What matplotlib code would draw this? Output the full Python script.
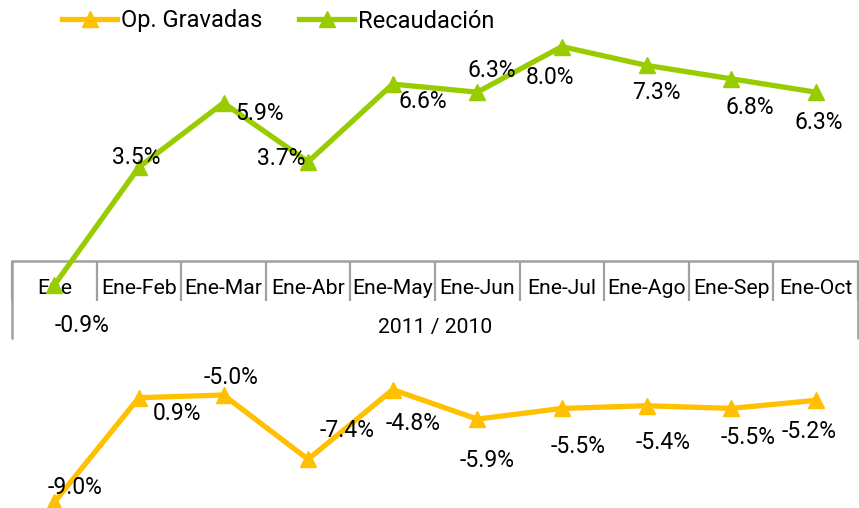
import numpy as np
import matplotlib
matplotlib.use("Agg")
import matplotlib.pyplot as plt
from matplotlib.transforms import blended_transform_factory

plt.rcParams['font.family'] = ['Roboto', 'DejaVu Sans']

categories = ["Ene", "Ene-Feb", "Ene-Mar", "Ene-Abr", "Ene-May", "Ene-Jun",
              "Ene-Jul", "Ene-Ago", "Ene-Sep", "Ene-Oct"]
op_gravadas = [-9.0, -5.1, -5.0, -7.4, -4.8, -5.9, -5.5, -5.4, -5.5, -5.2]
op_gravadas_labels = ["-9.0%", "0.9%", "-5.0%", "-7.4%", "-4.8%", "-5.9%",
                      "-5.5%", "-5.4%", "-5.5%", "-5.2%"]
recaudacion = [-0.9, 3.5, 5.9, 3.7, 6.6, 6.3, 8.0, 7.3, 6.8, 6.3]
recaudacion_labels = ["-0.9%", "3.5%", "5.9%", "3.7%", "6.6%", "6.3%",
                      "8.0%", "7.3%", "6.8%", "6.3%"]
axis_title = "2011 / 2010"

ORANGE = "#FFC000"
GREEN = "#99CC00"
GRAY = "#A0A0A0"

# label offsets in pixels (dx right, dy down)
op_offsets = [(21, -15), (38, 16), (8, -18), (39, -29), (20, 34), (10, 41),
              (16, 38), (17, 37), (17, 29), (-7, 31)]
rec_offsets = [(28, 40), (-3, -10), (36, 11), (-27, -3), (30, 17), (14, -22),
               (-12, 31), (10, 27), (19, 29), (3, 30)]

W, H = 859, 508
fig = plt.figure(figsize=(W / 100, H / 100), dpi=100)
ax = fig.add_axes([12 / W, 0, 846 / W, 1])

zero_px = 261.0
scale = 26.8
ax.set_xlim(-0.5, len(categories) - 0.5)
ax.set_ylim(-(H - zero_px) / scale, zero_px / scale)

x = np.arange(len(categories))
ax.plot(x, op_gravadas, color=ORANGE, lw=3.8, marker='^', ms=11,
        label="Op. Gravadas", zorder=4)
ax.plot(x, recaudacion, color=GREEN, lw=3.8, marker='^', ms=11,
        label="Recaudación", zorder=4)

for xi, yi, lab, (dx, dy) in zip(x, op_gravadas, op_gravadas_labels, op_offsets):
    ax.annotate(lab, (xi, yi), xytext=(dx, -dy), textcoords='offset pixels',
                ha='center', va='center', fontsize=16.5, color='black', zorder=5)
for xi, yi, lab, (dx, dy) in zip(x, recaudacion, recaudacion_labels, rec_offsets):
    ax.annotate(lab, (xi, yi), xytext=(dx, -dy), textcoords='offset pixels',
                ha='center', va='center', fontsize=16.5, color='black', zorder=5)

# axis styling
for s in ['top', 'left', 'right']:
    ax.spines[s].set_visible(False)
ax.spines['bottom'].set_position(('data', 0))
ax.spines['bottom'].set_color(GRAY)
ax.spines['bottom'].set_linewidth(1.8)
ax.set_yticks([])
ax.set_xticks(x)
ax.set_xticklabels(categories, fontsize=15.2)
ax.set_xticks(np.arange(-0.5, len(categories), 1), minor=True)
ax.tick_params(axis='x', which='major', length=0, pad=13)
ax.tick_params(axis='x', which='minor', length=28.5, width=1.6, color=GRAY,
               direction='out')
ax.xaxis.set_zorder(2)

trans = blended_transform_factory(ax.transData, ax.transAxes)
xl = ax.get_xlim()
ax.vlines([xl[0], xl[1]], (H - 339) / H, (H - zero_px) / H, transform=trans,
          color=GRAY, lw=1.8, clip_on=False)

ax.set_xlabel(axis_title, fontsize=15.2)
ax.xaxis.set_label_coords(0.5, (H - 327) / H)
ax.xaxis.label.set_va('center')

fig.legend(loc='center left', bbox_to_anchor=(62 / W, 1 - 21 / H), ncol=2,
           frameon=False, fontsize=17, handlelength=2.33, handletextpad=0.17,
           columnspacing=1.57, borderaxespad=0, borderpad=0)

fig.savefig("out.png", dpi=100)
